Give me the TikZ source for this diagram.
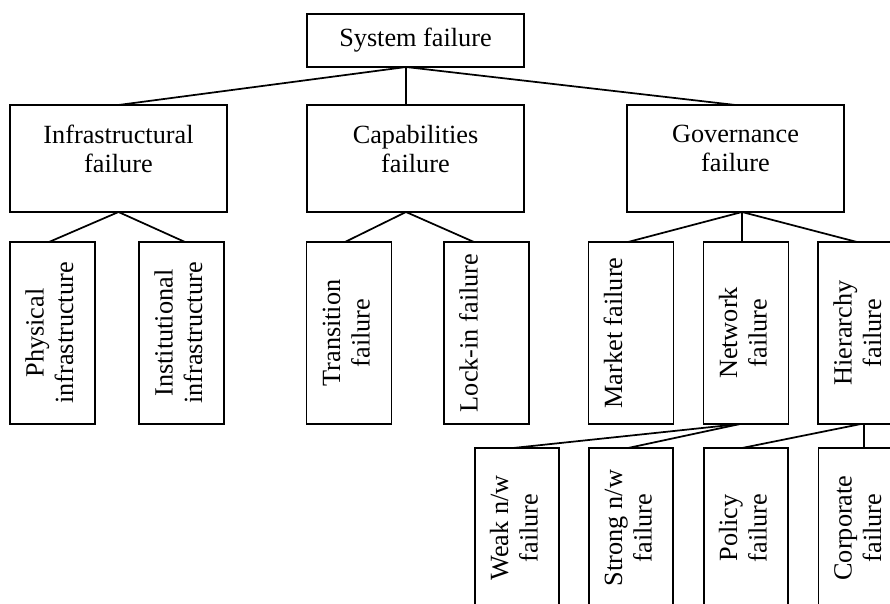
\documentclass[tikz,border=0pt]{standalone}
\usepackage{fontspec}
\setmainfont{Liberation Serif}
\usepackage{graphicx}
\usetikzlibrary{calc}
% two-line text set sideways, reading upwards
\newcommand\sidetext[1]{\rotatebox{90}{\begin{tabular}{@{}c@{}}#1\end{tabular}}}
\begin{document}
\begin{tikzpicture}[x=0.75pt,y=-0.75pt,
  box/.style={draw, line width=1.3pt, inner sep=0pt, outer sep=0pt,
    font=\fontsize{19.7pt}{22pt}\selectfont},
  topbox/.style={box, minimum width=162.75pt, minimum height=80.25pt},
  sidebox/.style={box, minimum width=63.75pt, minimum height=136.5pt},
  lowbox/.style={box, minimum width=63pt, minimum height=120pt},
  head/.style={anchor=north, inner sep=0pt, align=center,
    font=\fontsize{19.7pt}{21.5pt}\selectfont},
  conn/.style={draw, line width=1.3pt}]
\fill[white] (0,0) rectangle (890,604);
\useasboundingbox (0,0) rectangle (890,604);
\clip (0,0) rectangle (890,604);

% root
\node[box, minimum width=162.75pt, minimum height=39.75pt] (sys) at (415.5,40.5) {System failure};

% first level
\node[topbox] (infra) at (118.5,158.5) {};
\node[topbox] (cap) at (415.5,158.5) {};
\node[topbox] (gov) at (735.5,158.5) {};
\node[head] (infraL) at ($(infra.north)+(0,20)$) {Infrastructural\\failure};
\node[head] (capL) at ($(cap.north)+(0,20)$) {Capabilities\\failure};
\node[head] (govL) at ($(gov.north)+(0,20)$) {Governance\\failure};

% second level
\node[sidebox] (phys) at (52.5,333) {\sidetext{Physical\\infrastructure}};
\node[sidebox] (inst) at (181.5,333) {\sidetext{Institutional\\infrastructure}};
\node[sidebox] (trans) at (349,333) {\sidetext{Transition\\failure}};
\node[sidebox] (lock) at (486.5,333) {\sidetext{Lock-in failure\\\mbox{}}};
\node[sidebox] (market) at (631,333) {\sidetext{Market failure\\\mbox{}}};
\node[sidebox] (net) at (746,333) {\sidetext{Network\\failure}};
\node[sidebox] (hier) at (860.5,333) {\sidetext{Hierarchy\\failure}};

% third level
\node[lowbox] (weak) at (517,528) {\sidetext{Weak n/w\\failure}};
\node[lowbox] (strong) at (631,528) {\sidetext{Strong n/w\\failure}};
\node[lowbox] (policy) at (746,528) {\sidetext{Policy\\failure}};
\node[lowbox] (corp) at (860.5,528) {\sidetext{Corporate\\failure}};

% branching points
\coordinate (sysB) at ($(sys.south)+(-9.5,0)$);
\coordinate (capT) at ($(cap.north)+(-9.5,0)$);
\coordinate (capB) at ($(cap.south)+(-9.5,0)$);
\coordinate (govB) at ($(gov.south)+(6.5,0)$);
\coordinate (netT) at ($(net.north)+(-4,0)$);
\coordinate (netB) at ($(net.south)+(-6,0)$);
\coordinate (hierB) at ($(hier.south)+(0.5,0)$);
\coordinate (hierV) at ($(hier.south)+(3.5,0)$);
\coordinate (corpT) at ($(corp.north)+(3.5,0)$);

% connectors
\draw[conn] (sysB) -- (infra.north);
\draw[conn] (sysB) -- (capT);
\draw[conn] (sysB) -- (gov.north);

\draw[conn] (infra.south) -- ($(phys.north)+(-3.5,0)$);
\draw[conn] (infra.south) -- ($(inst.north)+(3.5,0)$);

\draw[conn] (capB) -- ($(trans.north)+(-4,0)$);
\draw[conn] (capB) -- ($(lock.north)+(-12.5,0)$);

\draw[conn] (govB) -- ($(market.north)+(-3,0)$);
\draw[conn] (govB) -- (netT);
\draw[conn] (govB) -- ($(hier.north)+(-3.5,0)$);

\draw[conn] (netB) -- ($(weak.north)+(-4,0)$);
\draw[conn] (netB) -- ($(strong.north)+(-3,0)$);

\draw[conn] (hierB) -- ($(policy.north)+(-4,0)$);
\draw[conn] (hierV) -- (corpT);
\end{tikzpicture}
\end{document}
